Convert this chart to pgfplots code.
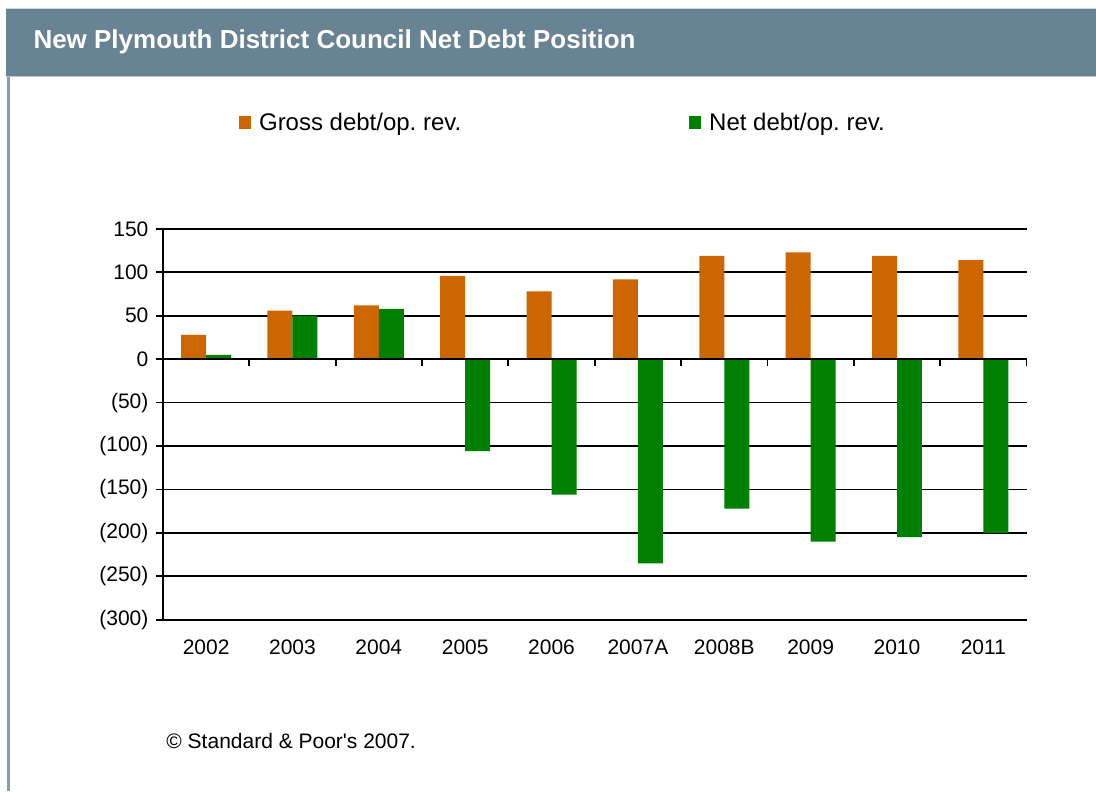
\documentclass[border=0pt]{standalone}
\usepackage{fontspec}
\setmainfont{Liberation Sans}
\usepackage{pgfplots}
\pgfplotsset{compat=1.18}
\usepackage{pgfplotstable}

\definecolor{grossc}{HTML}{CC6600}
\definecolor{netc}{HTML}{008000}
\definecolor{barbg}{HTML}{688393}
\definecolor{edgec}{HTML}{8C9DAA}

% ratio of debt to operating revenue, %
\pgfplotstableread{
x  year   gross  net
0  2002   28     5
1  2003   56     50
2  2004   62     58
3  2005   96     -106
4  2006   78     -156
5  2007A  92     -235
6  2008B  119    -172
7  2009   123    -210
8  2010   119    -205
9  2011   114    -200
}\debt

\newcommand{\tickfont}{\fontsize{21}{25}\selectfont}

\begin{document}
\begin{tikzpicture}[x=1pt,y=1pt]
% page frame: 1096 x 791
\path (0,0) rectangle (1096,791);
% header bar and left edge
\fill[barbg] (6,714) rectangle (1096,782);
\draw[edgec!60, line width=1pt] (6,714) -- (1096,714);
\draw[edgec!40, line width=1pt] (6,782) -- (1096,782);
\draw[edgec, line width=3pt] (8.5,0) -- (8.5,714);
\node[anchor=west, text=white, font=\bfseries\fontsize{26}{30}\selectfont] at (30,749) {New Plymouth District Council Net Debt Position};

\begin{axis}[
    scale only axis,
    width=864pt, height=391pt,
    at={(163pt,171pt)}, anchor=south west,
    xmin=-0.5, xmax=9.5,
    ymin=-300, ymax=150,
    ybar=0pt, bar width=25pt,
    axis y line*=left,
    axis x line*=bottom,
    axis line style={black, line width=2pt},
    ytick={-300,-250,...,150},
    yticklabels={(300),(250),(200),(150),(100),(50),0,50,100,150},
    ymajorgrids,
    major grid style={black, line width=1.8pt},
    xtick={0,...,9},
    xticklabels from table={\debt}{year},
    xtick style={draw=none},
    ytick style={black, line width=1.8pt},
    tick align=outside,
    major tick length=7pt,
    ticklabel style={font=\tickfont},
    yticklabel style={xshift=-4pt},
    xticklabel style={yshift=-10pt},
    legend columns=2,
    legend style={
        at={(axis description cs:0.0845,1.271)}, anchor=west,
        draw=none, fill=none,
        font=\fontsize{24}{28}\selectfont,
        column sep=6pt,
        /tikz/every even column/.append style={column sep=226pt}
    },
]
\addplot[fill=grossc, draw=none,
    legend image code/.code={\fill[grossc] (0pt,-6.5pt) rectangle (12pt,6.5pt);}]
    table[x=x, y=gross] {\debt};
\addlegendentry{Gross debt/op.\ rev.}
\addplot[fill=netc, draw=none,
    legend image code/.code={\fill[netc] (0pt,-6.5pt) rectangle (12pt,6.5pt);}]
    table[x=x, y=net] {\debt};
\addlegendentry{Net debt/op.\ rev.}
\end{axis}

% zero line with the category separators
\begin{axis}[
    scale only axis,
    width=864pt, height=391pt,
    at={(163pt,171pt)}, anchor=south west,
    xmin=-0.5, xmax=9.5,
    ymin=-300, ymax=150,
    axis x line*=middle,
    axis y line=none,
    axis line style={black, line width=2pt},
    xtick={0.5,1.5,...,9.5},
    xticklabels={},
    xtick style={black, line width=1.8pt},
    tick align=outside,
    major tick length=7pt,
]
\end{axis}

\node[anchor=west, font=\tickfont] at (163,50) {© Standard \& Poor\textquotesingle s 2007.};
\end{tikzpicture}
\end{document}
